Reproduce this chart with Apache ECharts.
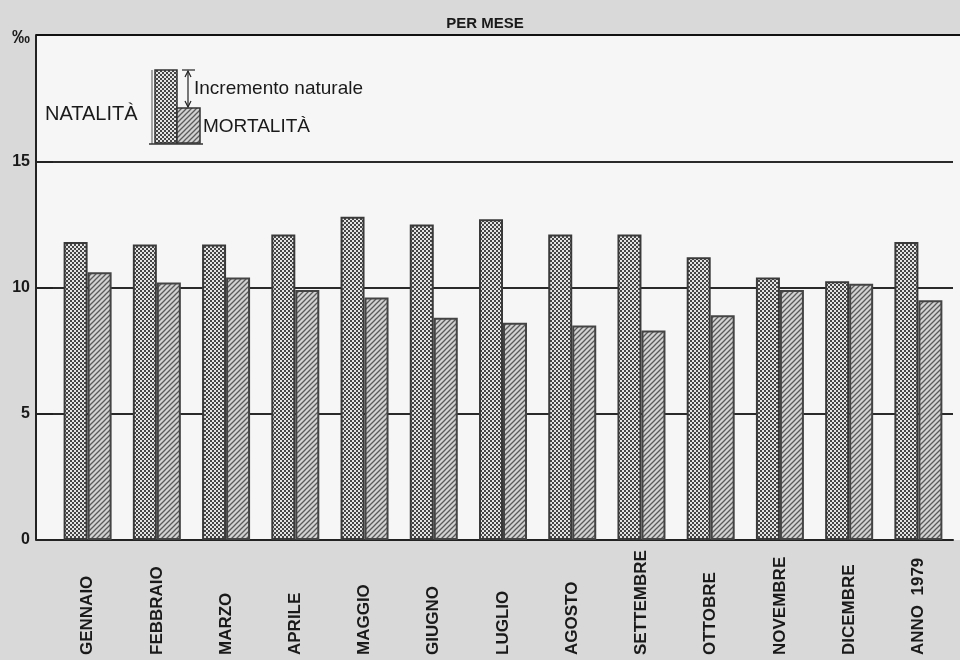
<!DOCTYPE html>
<html>
<head>
<meta charset="utf-8">
<script src="https://cdn.jsdelivr.net/npm/echarts@6/dist/echarts.min.js"></script>
<style>
  html, body { margin: 0; padding: 0; background: #d9d9d9; }
  #chart { width: 960px; height: 660px; }
</style>
</head>
<body>
<div id="chart"></div>
<script>
const categories = ['GENNAIO', 'FEBBRAIO', 'MARZO', 'APRILE', 'MAGGIO', 'GIUGNO', 'LUGLIO', 'AGOSTO', 'SETTEMBRE', 'OTTOBRE', 'NOVEMBRE', 'DICEMBRE', 'ANNO  1979'];
const natalita = [11.8, 11.7, 11.7, 12.1, 12.8, 12.5, 12.7, 12.1, 12.1, 11.2, 10.4, 10.25, 11.8];
const mortalita = [10.6, 10.2, 10.4, 9.9, 9.6, 8.8, 8.6, 8.5, 8.3, 8.9, 9.9, 10.15, 9.5];
const yTicks = [0, 5, 10, 15, 20];
const unitLabel = '‰';
const titleText = 'PER MESE';
const legendNat = 'NATALITÀ';
const legendMort = 'MORTALITÀ';
const legendInc = 'Incremento naturale';

function checkerPattern() {
  const c = document.createElement('canvas');
  c.width = 4; c.height = 4;
  const g = c.getContext('2d');
  g.fillStyle = '#454545';
  g.fillRect(0, 0, 4, 4);
  g.fillStyle = '#e4e4e4';
  g.fillRect(0, 0, 2, 2);
  g.fillRect(2, 2, 2, 2);
  return { image: c, repeat: 'repeat' };
}
function hatchPattern() {
  const c = document.createElement('canvas');
  c.width = 5; c.height = 5;
  const g = c.getContext('2d');
  g.fillStyle = '#d2d2d2';
  g.fillRect(0, 0, 5, 5);
  g.strokeStyle = '#5a5a5a';
  g.lineWidth = 1.3;
  g.beginPath();
  g.moveTo(-1, 6); g.lineTo(6, -1);
  g.moveTo(-1, 1); g.lineTo(1, -1);
  g.moveTo(4, 6); g.lineTo(6, 4);
  g.stroke();
  return { image: c, repeat: 'repeat' };
}

const natFill = checkerPattern();
const mortFill = hatchPattern();
const FONT = '"Liberation Sans", Arial, sans-serif';
const ink = '#1a1a1a';

const chart = echarts.init(document.getElementById('chart'), null, { renderer: 'canvas' });

const option = {
  backgroundColor: '#d9d9d9',
  animation: false,
  title: {
    text: titleText,
    left: 480, top: 11, textAlign: 'center',
    textStyle: { fontFamily: FONT, fontWeight: 'bold', fontSize: 15, color: ink }
  },
  grid: { left: 53, right: 7, top: 35, bottom: 120, containLabel: false },
  xAxis: {
    type: 'category',
    data: categories,
    axisLine: { show: true, lineStyle: { color: '#222', width: 2 } },
    axisTick: { show: false },
    axisLabel: {
      rotate: 90,
      align: 'left',
      verticalAlign: 'middle',
      margin: 115,
      interval: 0,
      fontFamily: FONT,
      fontWeight: 'bold',
      fontSize: 17,
      color: ink
    }
  },
  yAxis: {
    type: 'value',
    min: 0, max: 20, interval: 5,
    offset: 17,
    axisLine: { show: true, lineStyle: { color: '#222', width: 2 } },
    axisTick: { show: true, inside: true, length: 17, lineStyle: { color: '#222', width: 2 } },
    splitLine: { show: true, lineStyle: { color: '#2a2a2a', width: 2 } },
    axisLabel: {
      margin: 6,
      fontFamily: FONT,
      fontSize: 16,
      fontWeight: 'bold',
      color: ink,
      formatter: function (v) { return v === yTicks[yTicks.length - 1] ? '{u|' + unitLabel + '}' : String(v); },
      rich: { u: { fontFamily: FONT, fontSize: 18, fontWeight: 'bold', color: ink, padding: [6, 0, 0, 0] } }
    }
  },
  graphic: [
    { type: 'rect', z: -10, silent: true, shape: { x: 36, y: 35, width: 924, height: 505 }, style: { fill: '#f6f6f6' } },
    { type: 'line', z: 100, silent: true, shape: { x1: 36, y1: 35, x2: 960, y2: 35 }, style: { stroke: '#111', lineWidth: 2 } },
    // legend drawing
    { type: 'text', z: 100, style: { text: legendNat, x: 45, y: 114, verticalAlign: 'middle', font: '20px ' + FONT, fill: ink } },
    { type: 'line', z: 100, shape: { x1: 152, y1: 70, x2: 152, y2: 144 }, style: { stroke: '#555', lineWidth: 1 } },
    { type: 'rect', z: 100, shape: { x: 155, y: 70, width: 22, height: 73 }, style: { fill: natFill, stroke: '#333', lineWidth: 1.5 } },
    { type: 'rect', z: 100, shape: { x: 177, y: 108, width: 23, height: 35 }, style: { fill: mortFill, stroke: '#333', lineWidth: 1.5 } },
    { type: 'line', z: 100, shape: { x1: 149, y1: 144, x2: 203, y2: 144 }, style: { stroke: '#333', lineWidth: 1.5 } },
    { type: 'line', z: 100, shape: { x1: 188, y1: 71, x2: 188, y2: 107 }, style: { stroke: '#222', lineWidth: 1.2 } },
    { type: 'line', z: 100, shape: { x1: 182, y1: 70, x2: 195, y2: 70 }, style: { stroke: '#222', lineWidth: 1.2 } },
    { type: 'polyline', z: 100, shape: { points: [[185, 77], [188, 71], [191, 77]] }, style: { stroke: '#222', lineWidth: 1.2, fill: null } },
    { type: 'polyline', z: 100, shape: { points: [[185, 101], [188, 107], [191, 101]] }, style: { stroke: '#222', lineWidth: 1.2, fill: null } },
    { type: 'text', z: 100, style: { text: legendInc, x: 194, y: 89, verticalAlign: 'middle', font: '19px ' + FONT, fill: ink } },
    { type: 'text', z: 100, style: { text: legendMort, x: 203, y: 127, verticalAlign: 'middle', font: '19px ' + FONT, fill: ink } }
  ],
  series: [
    {
      name: legendNat,
      type: 'bar',
      data: natalita,
      barWidth: 24,
      barGap: '0%',
      itemStyle: { color: natFill, borderColor: '#3a3a3a', borderWidth: 2 }
    },
    {
      name: legendMort,
      type: 'bar',
      data: mortalita,
      barWidth: 24,
      itemStyle: { color: mortFill, borderColor: '#444', borderWidth: 2 }
    }
  ]
};
chart.setOption(option);
</script>
</body>
</html>
